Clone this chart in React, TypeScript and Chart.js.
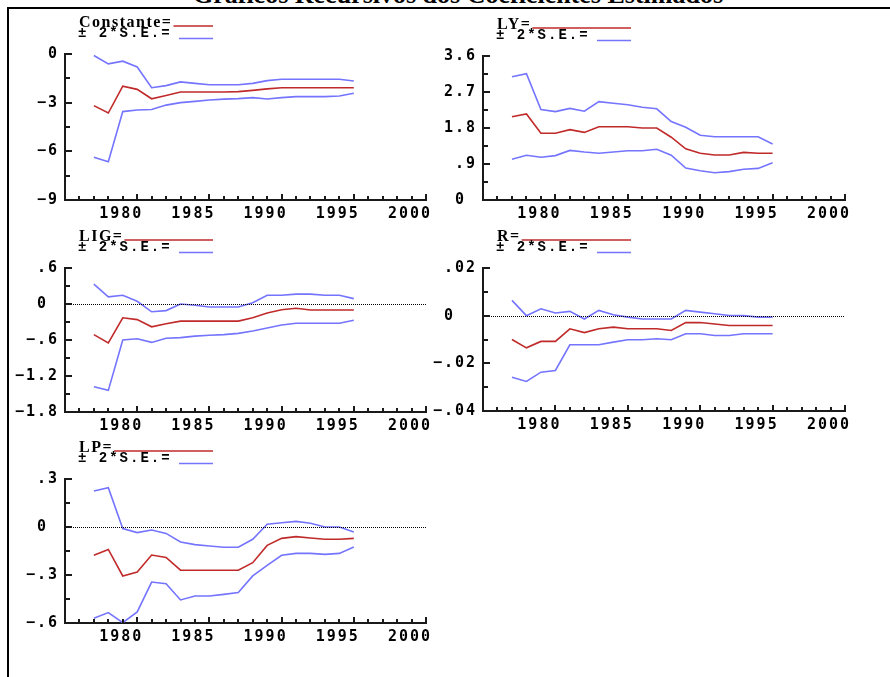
import React, { useEffect, useRef } from 'react';
import { Chart, registerables } from 'chart.js';

Chart.register(...registerables);

// ---------- data ----------
const years = [1977, 1978, 1979, 1980, 1981, 1982, 1983, 1984, 1985, 1986, 1987, 1988, 1989, 1990, 1991, 1992, 1993, 1994, 1995];
const xTickYears = [1980, 1985, 1990, 1995, 2000];
const xMinYear = 1975;
const xMaxYear = 2000;

const constCoef = [-3.18, -3.64, -1.98, -2.18, -2.76, -2.56, -2.34, -2.34, -2.34, -2.34, -2.32, -2.24, -2.15, -2.08, -2.08, -2.08, -2.08, -2.08, -2.08];
const constUpper = [-0.09, -0.61, -0.44, -0.8, -2.08, -1.95, -1.72, -1.81, -1.9, -1.9, -1.9, -1.81, -1.64, -1.56, -1.56, -1.56, -1.56, -1.56, -1.66];
const constLower = [-6.37, -6.64, -3.55, -3.45, -3.42, -3.15, -3.0, -2.92, -2.84, -2.78, -2.75, -2.69, -2.77, -2.69, -2.63, -2.63, -2.63, -2.59, -2.42];
const constTicks = [0, -3, -6, -9];

const lyCoef = [2.08, 2.15, 1.67, 1.67, 1.76, 1.69, 1.83, 1.83, 1.83, 1.8, 1.8, 1.57, 1.28, 1.17, 1.125, 1.125, 1.19, 1.17, 1.17];
const lyUpper = [3.08, 3.16, 2.26, 2.21, 2.29, 2.22, 2.46, 2.42, 2.38, 2.32, 2.28, 1.96, 1.82, 1.62, 1.58, 1.58, 1.58, 1.58, 1.4];
const lyLower = [1.02, 1.12, 1.07, 1.11, 1.24, 1.2, 1.17, 1.2, 1.23, 1.23, 1.27, 1.12, 0.8, 0.73, 0.68, 0.71, 0.77, 0.79, 0.93];
const lyTicks = [3.6, 2.7, 1.8, 0.9, 0];

const ligCoef = [-0.51, -0.65, -0.23, -0.26, -0.38, -0.33, -0.285, -0.285, -0.285, -0.285, -0.285, -0.23, -0.15, -0.095, -0.07, -0.1, -0.1, -0.1, -0.1];
const ligUpper = [0.33, 0.12, 0.145, 0.045, -0.13, -0.11, 0, -0.02, -0.05, -0.05, -0.05, 0.02, 0.145, 0.145, 0.165, 0.165, 0.145, 0.145, 0.09];
const ligLower = [-1.38, -1.44, -0.6, -0.58, -0.64, -0.57, -0.56, -0.535, -0.52, -0.51, -0.49, -0.45, -0.4, -0.35, -0.32, -0.32, -0.32, -0.32, -0.27];
const ligTicks = [0.6, 0, -0.6, -1.2, -1.8];

const rCoef = [-0.01, -0.0135, -0.0108, -0.0108, -0.0055, -0.0071, -0.0055, -0.0048, -0.0055, -0.0055, -0.0055, -0.0062, -0.0029, -0.0029, -0.0035, -0.0041, -0.0041, -0.0041, -0.0041];
const rUpper = [0.0064, 0.0, 0.0029, 0.0011, 0.0018, -0.0014, 0.0022, 0.0004, -0.0006, -0.0014, -0.0014, -0.0014, 0.0022, 0.0015, 0.0008, 0.0001, 0, -0.0006, -0.0006];
const rLower = [-0.0258, -0.0276, -0.0237, -0.023, -0.0122, -0.0122, -0.0122, -0.0111, -0.0101, -0.0101, -0.0097, -0.0101, -0.0076, -0.0076, -0.0083, -0.0083, -0.0076, -0.0076, -0.0076];
const rTicks = [0.02, 0, -0.02, -0.04];

const lpCoef = [-0.177, -0.14, -0.306, -0.281, -0.175, -0.19, -0.27, -0.27, -0.27, -0.27, -0.27, -0.223, -0.115, -0.071, -0.06, -0.069, -0.077, -0.077, -0.071];
const lpUpper = [0.225, 0.246, -0.01, -0.035, -0.019, -0.04, -0.094, -0.11, -0.119, -0.127, -0.127, -0.077, 0.017, 0.027, 0.035, 0.023, 0, 0, -0.031];
const lpLower = [-0.571, -0.535, -0.598, -0.531, -0.344, -0.354, -0.456, -0.431, -0.431, -0.421, -0.41, -0.306, -0.24, -0.177, -0.165, -0.165, -0.171, -0.165, -0.125];
const lpTicks = [0.3, 0, -0.3, -0.6];

const TITLE = 'Gráficos Recursivos dos Coeficientes Estimados';
const SE_LABEL = '± 2*S.E.=';

// ---------- styles ----------
const RED = '#c02a2a';
const BLUE = '#7474ff';
const AXIS = '#1a1a1a';
const TICK_FONT = { family: '"DejaVu Sans Mono", monospace', size: 15, weight: 'bold' as const };

type PanelCfg = {
  name: string;
  coef: number[];
  upper: number[];
  lower: number[];
  yTicks: number[];
  zero: boolean;
  L: number; T: number; R: number; B: number; canvasLeft: number;
};

const panels: PanelCfg[] = [
  { name: 'Constante', coef: constCoef, upper: constUpper, lower: constLower, yTicks: constTicks, zero: false, L: 65, T: 54, R: 426, B: 200, canvasLeft: 0 },
  { name: 'LY', coef: lyCoef, upper: lyUpper, lower: lyLower, yTicks: lyTicks, zero: false, L: 483, T: 56, R: 845, B: 200, canvasLeft: 430 },
  { name: 'LIG', coef: ligCoef, upper: ligUpper, lower: ligLower, yTicks: ligTicks, zero: true, L: 65, T: 268, R: 426, B: 412, canvasLeft: 0 },
  { name: 'R', coef: rCoef, upper: rUpper, lower: rLower, yTicks: rTicks, zero: true, L: 483, T: 268, R: 845, B: 411, canvasLeft: 430 },
  { name: 'LP', coef: lpCoef, upper: lpUpper, lower: lpLower, yTicks: lpTicks, zero: true, L: 65, T: 479, R: 426, B: 623, canvasLeft: 0 },
];

function fmtAbs(v: number): string {
  let s = String(Number(Math.abs(v).toFixed(6)));
  return s.replace(/^0\./, '.');
}

function makeFormatter(ticks: number[]) {
  const positives = ticks.filter((t) => t !== 0).map((t) => fmtAbs(t).length);
  const width = positives.length ? Math.min(...positives) : 1;
  return (v: number): string => {
    if (Math.abs(v) < 1e-12) return '0' + ' '.repeat(Math.max(0, width - 1));
    return (v < 0 ? '\u2212' : '') + fmtAbs(v);
  };
}

const CANVAS_W = 455;
const PAD_TOP = 50;
const X_AXIS_H = 30;

function Panel({ cfg }: { cfg: PanelCfg }) {
  const ref = useRef<HTMLCanvasElement>(null);
  const ch = cfg.B - cfg.T + PAD_TOP + X_AXIS_H;
  useEffect(() => {
    const canvas = ref.current;
    if (!canvas) return;
    const sortedTicks = [...cfg.yTicks].sort((a, b) => a - b);
    const yMin = sortedTicks[0];
    const yMax = sortedTicks[sortedTicks.length - 1];
    const fmt = makeFormatter(cfg.yTicks);

    const deco = {
      id: 'panelDeco',
      beforeLayout(chart: any) {
        chart.ctx.letterSpacing = '2px';
      },
      beforeDraw(chart: any) {
        chart.ctx.letterSpacing = '2px';
      },
      afterDatasetsDraw(chart: any) {
        if (!cfg.zero) return;
        const { ctx, chartArea } = chart;
        const y0 = Math.round(chart.scales.y.getPixelForValue(0)) + 0.5;
        ctx.save();
        ctx.strokeStyle = '#000';
        ctx.lineWidth = 1;
        ctx.setLineDash([1, 1]);
        ctx.beginPath();
        ctx.moveTo(chartArea.left, y0);
        ctx.lineTo(chartArea.right, y0);
        ctx.stroke();
        ctx.restore();
      },
      afterDraw(chart: any) {
        const { ctx, chartArea } = chart;
        const { left, top, bottom } = chartArea;
        const xs = chart.scales.x;
        const ys = chart.scales.y;
        ctx.save();
        ctx.strokeStyle = AXIS;
        ctx.lineWidth = 2;
        ctx.setLineDash([]);
        for (let yr = xMinYear; yr <= xMaxYear; yr++) {
          const px = Math.round(xs.getPixelForValue(yr));
          const len = yr % 5 === 0 ? 6 : 4;
          ctx.beginPath();
          ctx.moveTo(px, bottom);
          ctx.lineTo(px, bottom - len);
          ctx.stroke();
        }
        for (let i = 0; i < sortedTicks.length; i++) {
          const py = Math.round(ys.getPixelForValue(sortedTicks[i]));
          ctx.beginPath();
          ctx.moveTo(left, py);
          ctx.lineTo(left + 7, py);
          ctx.stroke();
          if (i < sortedTicks.length - 1) {
            const mid = (sortedTicks[i] + sortedTicks[i + 1]) / 2;
            const pm = Math.round(ys.getPixelForValue(mid));
            ctx.beginPath();
            ctx.moveTo(left, pm);
            ctx.lineTo(left + 5, pm);
            ctx.stroke();
          }
        }
        // legend
        ctx.fillStyle = '#000';
        ctx.textBaseline = 'alphabetic';
        ctx.textAlign = 'left';
        ctx.letterSpacing = '1.5px';
        ctx.font = 'bold 16px "Liberation Serif", serif';
        const label = cfg.name + '=';
        const w = ctx.measureText(label).width;
        let lx = left + 14;
        if (lx + w > left + 112) lx = left + 112 - w;
        ctx.fillText(label, lx, top - 27);
        ctx.lineWidth = 1.6;
        ctx.strokeStyle = RED;
        ctx.beginPath();
        ctx.moveTo(lx + w + 1, top - 28);
        ctx.lineTo(left + 148, top - 28);
        ctx.stroke();
        ctx.letterSpacing = '2px';
        ctx.font = 'bold 14px "Liberation Mono", monospace';
        ctx.fillText(SE_LABEL, left + 13, top - 17);
        ctx.strokeStyle = BLUE;
        ctx.beginPath();
        ctx.moveTo(left + 114, top - 15.5);
        ctx.lineTo(left + 148, top - 15.5);
        ctx.stroke();
        ctx.restore();
      },
    };

    const mk = (vals: number[], color: string) => ({
      data: years.map((yr, i) => ({ x: yr, y: vals[i] })),
      borderColor: color,
      borderWidth: 1.6,
      pointRadius: 0,
      tension: 0,
      fill: false,
    });

    const chart = new Chart(canvas, {
      type: 'line',
      data: {
        datasets: [mk(cfg.upper, BLUE), mk(cfg.lower, BLUE), mk(cfg.coef, RED)] as any,
      },
      options: {
        responsive: false,
        animation: false,
        devicePixelRatio: 1,
        layout: { padding: { top: PAD_TOP, left: 0, bottom: 0, right: CANVAS_W - (cfg.R - cfg.canvasLeft) } },
        plugins: { legend: { display: false }, tooltip: { enabled: false } },
        scales: {
          x: {
            type: 'linear',
            min: xMinYear,
            max: xMaxYear,
            afterBuildTicks: (s: any) => { s.ticks = xTickYears.map((v) => ({ value: v })); },
            afterFit: (s: any) => { s.height = X_AXIS_H; s.paddingLeft = 0; s.paddingRight = 0; },
            grid: { display: false, drawTicks: false },
            border: { display: true, color: AXIS, width: 2 },
            ticks: {
              font: TICK_FONT,
              color: '#000',
              padding: 5,
              labelOffset: -16,
              maxRotation: 0,
              minRotation: 0,
              autoSkip: false,
              callback: (v: any) => String(v),
            },
          },
          y: {
            type: 'linear',
            min: yMin,
            max: yMax,
            afterBuildTicks: (s: any) => { s.ticks = sortedTicks.map((v) => ({ value: v })); },
            afterFit: (s: any) => { s.width = cfg.L - cfg.canvasLeft; s.paddingTop = 0; s.paddingBottom = 0; },
            grid: { display: false, drawTicks: false },
            border: { display: true, color: AXIS, width: 2 },
            ticks: {
              font: TICK_FONT,
              color: '#000',
              padding: 6,
              autoSkip: false,
              callback: (v: any) => fmt(Number(v)),
            },
          },
        },
      } as any,
      plugins: [deco],
    });
    return () => chart.destroy();
  }, [cfg]);

  return (
    <canvas
      ref={ref}
      width={CANVAS_W}
      height={ch}
      style={{ position: 'absolute', left: cfg.canvasLeft, top: cfg.T - PAD_TOP, width: CANVAS_W, height: ch }}
    />
  );
}

export default function App() {
  return (
    <div style={{ position: 'absolute', left: 0, top: 0, width: 890, height: 677, background: '#fff', overflow: 'hidden' }}>
      <div
        style={{
          position: 'absolute',
          left: 13,
          top: -18,
          width: 890,
          textAlign: 'center',
          font: 'bold 26px "Liberation Serif", serif',
          lineHeight: '26px',
          whiteSpace: 'nowrap',
          color: '#000',
        }}
      >
        {TITLE}
      </div>
      <div style={{ position: 'absolute', left: 7, top: 7, width: 883, height: 670, borderTop: '2px solid #000', borderLeft: '2px solid #000' }} />
      {panels.map((p) => (
        <Panel key={p.name} cfg={p} />
      ))}
    </div>
  );
}
